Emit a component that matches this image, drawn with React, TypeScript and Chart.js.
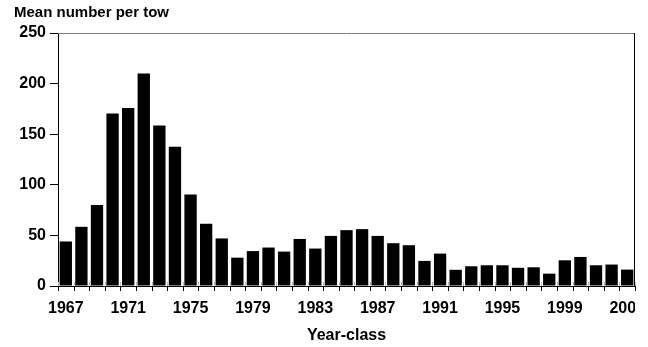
import React, { useEffect, useRef } from "react";
import { Chart, registerables } from "chart.js";

Chart.register(...registerables);

const years: string[] = [
  "1967", "1968", "1969", "1970", "1971", "1972", "1973", "1974", "1975", "1976",
  "1977", "1978", "1979", "1980", "1981", "1982", "1983", "1984", "1985", "1986",
  "1987", "1988", "1989", "1990", "1991", "1992", "1993", "1994", "1995", "1996",
  "1997", "1998", "1999", "2000", "2001", "2002", "2003",
];

const meanPerTow: number[] = [
  44, 58.5, 80, 170.5, 176, 210, 158.5, 137.5, 90.5, 61.5,
  47, 28, 34.5, 38, 34, 46.5, 37, 49.5, 55.2, 56.2,
  49.5, 42.3, 40.3, 24.8, 32, 16, 19.5, 20.5, 20.5, 18,
  18.5, 12.2, 25.4, 28.7, 20.5, 21.2, 16.2,
];

const xLabelEvery = 4;
const yTicks: number[] = [0, 50, 100, 150, 200, 250];
const yTitle = "Mean number per tow";
const xTitle = "Year-class";

const FONT = "Arial, 'Liberation Sans', sans-serif";

const decor = {
  id: "decor",
  afterDraw(chart: any) {
    const { ctx, chartArea } = chart;
    const x = chart.scales.x;
    const { left, right, top, bottom } = chartArea;
    ctx.save();
    // border top (gray) and right (black)
    ctx.lineWidth = 1;
    ctx.strokeStyle = "#808080";
    ctx.beginPath();
    ctx.moveTo(left, top + 0.5);
    ctx.lineTo(right, top + 0.5);
    ctx.stroke();
    ctx.strokeStyle = "#000";
    ctx.beginPath();
    ctx.moveTo(right - 0.5, top);
    ctx.lineTo(right - 0.5, bottom);
    ctx.stroke();
    // x ticks crossing the axis at category boundaries
    const n = years.length;
    for (let i = 0; i <= n; i++) {
      const px = i < n
        ? x.getPixelForValue(i) - (x.getPixelForValue(1) - x.getPixelForValue(0)) / 2
        : x.getPixelForValue(n - 1) + (x.getPixelForValue(1) - x.getPixelForValue(0)) / 2;
      const xx = Math.round(px) + 0.5;
      ctx.strokeStyle = "#000";
      ctx.beginPath();
      ctx.moveTo(xx, bottom);
      ctx.lineTo(xx, bottom + 5);
      ctx.stroke();
      ctx.strokeStyle = "#bbbbbb";
      ctx.beginPath();
      ctx.moveTo(xx, bottom - 4);
      ctx.lineTo(xx, bottom);
      ctx.stroke();
    }
    // x axis line
    ctx.strokeStyle = "#000";
    ctx.beginPath();
    ctx.moveTo(left, Math.round(bottom) + 0.5);
    ctx.lineTo(right, Math.round(bottom) + 0.5);
    ctx.stroke();
    // x labels, clipped at plot right edge
    ctx.save();
    ctx.beginPath();
    ctx.rect(0, 0, right, chart.height);
    ctx.clip();
    ctx.fillStyle = "#000";
    ctx.font = `bold 16px ${FONT}`;
    ctx.textAlign = "center";
    ctx.textBaseline = "middle";
    years.forEach((y, i) => {
      if (i % xLabelEvery === 0) ctx.fillText(y, x.getPixelForValue(i), 309);
    });
    ctx.restore();
    // titles
    ctx.font = `bold 15px ${FONT}`;
    ctx.textAlign = "left";
    ctx.textBaseline = "middle";
    ctx.fillText(yTitle, 14, 13);
    ctx.font = `bold 16px ${FONT}`;
    ctx.textAlign = "center";
    ctx.fillText(xTitle, (left + right) / 2, 336);
    ctx.restore();
  },
};

export default function App() {
  const ref = useRef<HTMLCanvasElement | null>(null);
  useEffect(() => {
    document.body.style.margin = "0";
    const chart = new Chart(ref.current as HTMLCanvasElement, {
      type: "bar",
      data: {
        labels: years,
        datasets: [
          {
            data: meanPerTow,
            backgroundColor: "#000",
            borderWidth: 0,
            categoryPercentage: 1,
            barPercentage: 0.79,
          },
        ],
      },
      options: {
        animation: false,
        responsive: false,
        layout: { padding: { left: 0, right: 13, top: 33, bottom: 0 } },
        plugins: { legend: { display: false }, tooltip: { enabled: false }, title: { display: false } },
        scales: {
          x: {
            grid: { display: false },
            border: { display: false },
            ticks: { display: false },
            afterFit: (s: any) => { s.height = 61; },
          },
          y: {
            min: 0,
            max: 250,
            afterBuildTicks: (s: any) => { s.ticks = yTicks.map((v) => ({ value: v })); },
            grid: { drawOnChartArea: false, tickLength: 8, color: "#000" },
            border: { display: true, color: "#000" },
            ticks: {
              color: "#000",
              padding: 4,
              font: { family: FONT, size: 16, weight: "bold" },
            },
            afterFit: (s: any) => { s.width = 58; },
          },
        },
      },
      plugins: [decor],
    });
    return () => chart.destroy();
  }, []);
  return <canvas ref={ref} width={648} height={347} style={{ display: "block" }} />;
}
